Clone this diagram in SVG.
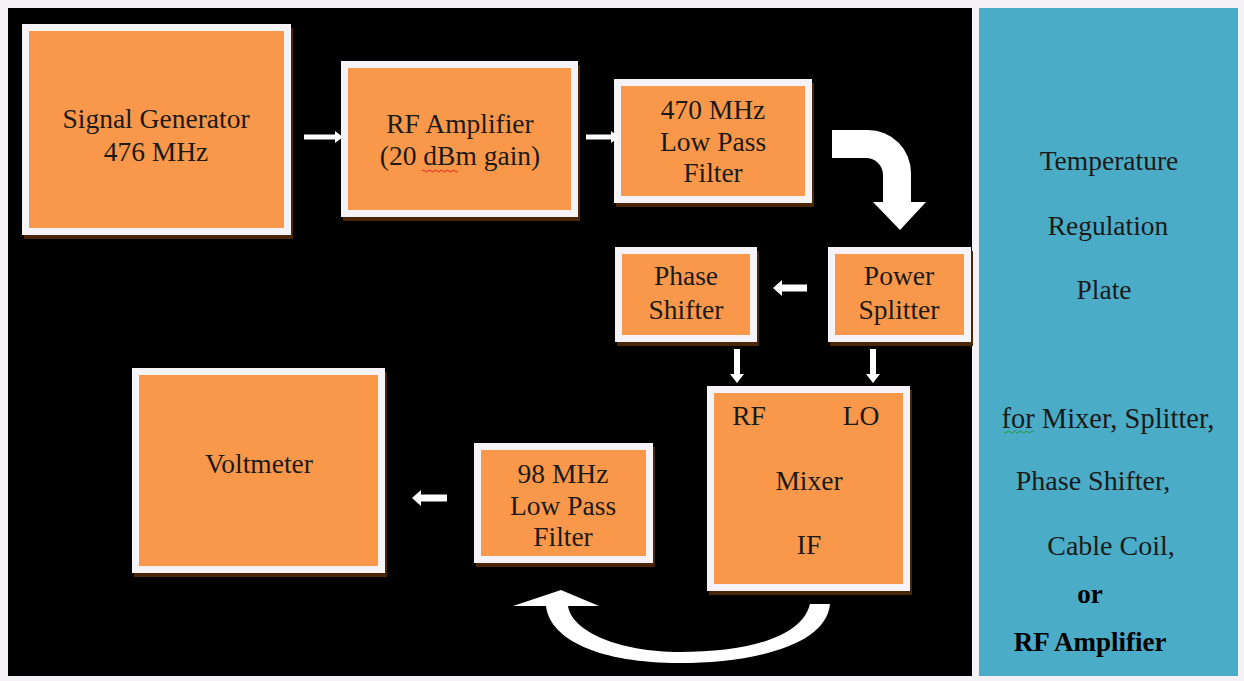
<svg xmlns="http://www.w3.org/2000/svg" width="1244" height="681" viewBox="0 0 1244 681">
<style>
.sh{fill:#4a2608}
.bd{fill:#f5f2f8}
.in{fill:#f9984a}
.t{font-family:'Liberation Serif',serif;font-size:27.5px;fill:#1c1a18;text-anchor:middle}
.b{font-weight:bold;fill:#000;font-size:27px}
.ar{fill:#ffffff}
</style>
<rect x="0" y="0" width="1244" height="681" fill="#f4f2f6"/>
<rect x="8" y="8" width="964" height="668" fill="#000000"/>
<rect x="979" y="8" width="259" height="668" fill="#4bacc7"/>

<g id="signal-generator" font-family="Liberation Serif">
<rect class="sh" x="24" y="28" width="269" height="211"/>
<rect class="bd" x="22" y="24" width="269" height="211"/>
<rect class="in" x="29" y="31" width="255" height="197"/>
<text class="t" x="156" y="128">Signal Generator</text>
<text class="t" x="156" y="161">476 MHz</text>
</g>

<g id="rf-amplifier" font-family="Liberation Serif">
<rect class="sh" x="343" y="65" width="237" height="156"/>
<rect class="bd" x="341" y="61" width="237" height="156"/>
<rect class="in" x="348" y="68" width="223" height="142"/>
<text class="t" x="460" y="133">RF Amplifier</text>
<text class="t" x="460" y="165">(20 dBm gain)</text>
<path d="M422,171 q1.5,-2 3,0 t3,0 t3,0 t3,0 t3,0 t3,0 t3,0 t3,0 t3,0 t3,0 t3,0 t3,0" fill="none" stroke="#e02020" stroke-width="1"/>
</g>

<g id="lpf-470" font-family="Liberation Serif">
<rect class="sh" x="616" y="83" width="198" height="124"/>
<rect class="bd" x="614" y="79" width="198" height="124"/>
<rect class="in" x="621" y="86" width="184" height="110"/>
<text class="t" x="713" y="119">470 MHz</text>
<text class="t" x="713" y="151">Low Pass</text>
<text class="t" x="713" y="182">Filter</text>
</g>

<g id="phase-shifter" font-family="Liberation Serif">
<rect class="sh" x="617" y="251" width="142" height="95"/>
<rect class="bd" x="615" y="247" width="142" height="95"/>
<rect class="in" x="622" y="254" width="128" height="81"/>
<text class="t" x="686" y="285">Phase</text>
<text class="t" x="686" y="319">Shifter</text>
</g>

<g id="power-splitter" font-family="Liberation Serif">
<rect class="sh" x="830" y="251" width="143" height="95"/>
<rect class="bd" x="828" y="247" width="143" height="95"/>
<rect class="in" x="835" y="254" width="129" height="81"/>
<text class="t" x="899" y="285">Power</text>
<text class="t" x="899" y="319">Splitter</text>
</g>

<g id="mixer" font-family="Liberation Serif">
<rect class="sh" x="709" y="390" width="203" height="205"/>
<rect class="bd" x="707" y="386" width="203" height="205"/>
<rect class="in" x="714" y="393" width="189" height="191"/>
<text class="t" x="749" y="425">RF</text>
<text class="t" x="861" y="425">LO</text>
<text class="t" x="809" y="490">Mixer</text>
<text class="t" x="809" y="554">IF</text>
</g>

<g id="lpf-98" font-family="Liberation Serif">
<rect class="sh" x="476" y="447" width="179" height="120"/>
<rect class="bd" x="474" y="443" width="179" height="120"/>
<rect class="in" x="481" y="450" width="165" height="106"/>
<text class="t" x="563" y="483">98 MHz</text>
<text class="t" x="563" y="515">Low Pass</text>
<text class="t" x="563" y="546">Filter</text>
</g>

<g id="voltmeter" font-family="Liberation Serif">
<rect class="sh" x="134" y="372" width="253" height="205"/>
<rect class="bd" x="132" y="368" width="253" height="205"/>
<rect class="in" x="139" y="375" width="239" height="191"/>
<text class="t" x="259" y="473">Voltmeter</text>
</g>

<g id="temperature-plate" font-family="Liberation Serif">
<text class="t" x="1109" y="170">Temperature</text>
<text class="t" x="1108" y="235">Regulation</text>
<text class="t" x="1104" y="299">Plate</text>
<text class="t" x="1108" y="428" style="font-size:28.5px">for Mixer, Splitter,</text>
<path d="M1004,432 q1.5,2 3,0 t3,0 t3,0 t3,0 t3,0 t3,0 t3,0 t3,0 t3,0 t3,0" fill="none" stroke="#1a9a3a" stroke-width="1"/>
<text class="t" x="1093" y="490" style="font-size:28px">Phase Shifter,</text>
<text class="t" x="1111" y="555" style="font-size:28px">Cable Coil,</text>
<text class="t b" x="1090" y="603">or</text>
<text class="t b" x="1090" y="651">RF Amplifier</text>
</g>

<g id="connectors">
<path class="ar" d="M304,134.5 H335 V131 L343,137 L335,143 V139.5 H304 Z"/>
<path class="ar" d="M586,134.5 H611 V131 L619,137 L611,143 V139.5 H586 Z"/>
<path class="ar" d="M807,284.5 H782 V280 L773,288 L782,296 V291.5 H807 Z"/>
<path class="ar" d="M734,349 V374 H730 L737,383 L744,374 H740 V349 Z"/>
<path class="ar" d="M870,349 V374 H866 L873,383 L880,374 H876 V349 Z"/>
<path class="ar" d="M447,494.5 H421 V490 L412,498 L421,506 V501.5 H447 Z"/>
<path class="ar" d="M832,130 H868 A43,43 0 0 1 911,173 V202 H926 L900,230 L873,202 H883 V175 A17,17 0 0 0 866,158 H832 Z"/>
<path class="ar" d="M830,604 C826,648 745,663 680,663 C600,663 550,640 546,606 H513 L561,590 L599,606 H568 C572,632 620,652 680,652 C745,652 802,638 810,604 Z"/>
</g>
</svg>
